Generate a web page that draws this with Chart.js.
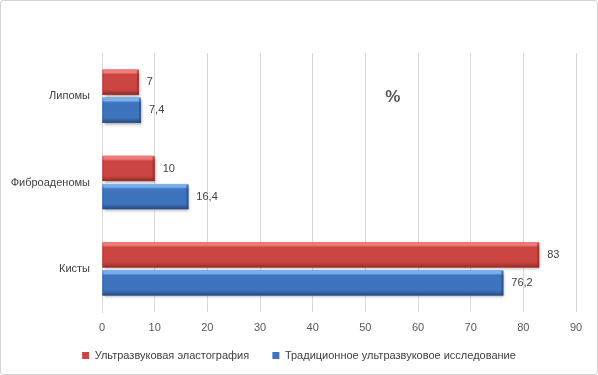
<!DOCTYPE html>
<html>
<head>
<meta charset="utf-8">
<script src="https://cdn.jsdelivr.net/npm/chart.js@4/dist/chart.umd.min.js"></script>
<style>
  html, body { margin: 0; padding: 0; background: #fff; }
  #wrap {
    width: 598px; height: 375px; box-sizing: border-box;
    border: 1px solid #d4d4d4; border-radius: 3px; position: relative;
  }
  #c { display: block; }
</style>
</head>
<body>
<div id="wrap"><canvas id="c" width="596" height="373"></canvas></div>
<script>
// data
const categories = ['Липомы', 'Фиброаденомы', 'Кисты'];
const seriesNames = ['Ультразвуковая эластография', 'Традиционное ультразвуковое исследование'];
const elastography = [7, 10, 83];
const traditional = [7.4, 16.4, 76.2];
const xTicks = [0, 10, 20, 30, 40, 50, 60, 70, 80, 90];
const unitLabel = '%';

const FONT = '"Liberation Sans", Arial, sans-serif';
const palette = [
  { main: '#CB4542', light: '#EE7B77', dark: '#8F2B29' },
  { main: '#3E73BE', light: '#7BB0EC', dark: '#27497C' }
];

function fmt(v) {
  return String(v).replace('.', ',');
}

// soft shadow under the bars
const barShadow = {
  id: 'barShadow',
  beforeDatasetDraw(chart) {
    const ctx = chart.ctx;
    ctx.save();
    ctx.shadowColor = 'rgba(0,0,0,0.35)';
    ctx.shadowBlur = 3;
    ctx.shadowOffsetX = 1;
    ctx.shadowOffsetY = 2;
  },
  afterDatasetDraw(chart) {
    chart.ctx.restore();
  }
};

// bevel look + value labels + "%" note
const barDecor = {
  id: 'barDecor',
  afterDatasetsDraw(chart) {
    const ctx = chart.ctx;
    chart.data.datasets.forEach((ds, di) => {
      const meta = chart.getDatasetMeta(di);
      const col = palette[di];
      meta.data.forEach((bar, i) => {
        const top = bar.y - bar.height / 2;
        const h = bar.height;
        const left = Math.min(bar.base, bar.x);
        const w = Math.abs(bar.x - bar.base);
        const g = ctx.createLinearGradient(0, top, 0, top + h);
        g.addColorStop(0, col.light);
        g.addColorStop(0.12, col.light);
        g.addColorStop(0.2, col.main);
        g.addColorStop(0.8, col.main);
        g.addColorStop(1, col.dark);
        ctx.save();
        ctx.fillStyle = g;
        ctx.fillRect(left, top, w, h);
        // side edges
        ctx.fillStyle = col.dark;
        ctx.globalAlpha = 0.6;
        ctx.fillRect(left + w - 2, top + 1, 2, h - 1);
        ctx.globalAlpha = 0.3;
        ctx.fillRect(left, top + 1, 1, h - 1);
        ctx.restore();

        ctx.save();
        ctx.fillStyle = '#404040';
        ctx.font = '11px ' + FONT;
        ctx.textAlign = 'left';
        ctx.textBaseline = 'middle';
        ctx.fillText(fmt(ds.data[i]), bar.x + 8, bar.y);
        ctx.restore();
      });
    });
  },
  afterDraw(chart) {
    const ctx = chart.ctx;
    const xs = chart.scales.x, ys = chart.scales.y;
    ctx.save();
    ctx.fillStyle = '#595959';
    ctx.font = 'bold 17px ' + FONT;
    ctx.textAlign = 'center';
    ctx.textBaseline = 'middle';
    ctx.fillText(unitLabel, xs.getPixelForValue(55.2), ys.getPixelForValue(0) + 1);
    ctx.restore();
  }
};

new Chart(document.getElementById('c'), {
  type: 'bar',
  data: {
    labels: categories,
    datasets: [
      { label: seriesNames[0], data: elastography, backgroundColor: palette[0].main, borderWidth: 0 },
      { label: seriesNames[1], data: traditional, backgroundColor: palette[1].main, borderWidth: 0 }
    ]
  },
  options: {
    indexAxis: 'y',
    responsive: false,
    animation: false,
    categoryPercentage: 0.65,
    barPercentage: 0.9,
    layout: { padding: { top: 52, right: 0, left: 0, bottom: 3 } },
    scales: {
      x: {
        min: 0, max: 90,
        afterBuildTicks(scale) { scale.ticks = xTicks.map(v => ({ value: v })); },
        afterFit(scale) { scale.height = 24; },
        grid: { color: '#d9d9d9', lineWidth: 1, drawTicks: false },
        border: { display: false },
        ticks: { color: '#595959', font: { family: FONT, size: 11 }, padding: 9 }
      },
      y: {
        afterFit(scale) { scale.width = 101; },
        grid: { display: false },
        border: { display: true, color: '#d9d9d9' },
        ticks: { color: '#404040', font: { family: FONT, size: 11 }, padding: 4 }
      },
      // empty strip on the right, keeps the legend centred on the page
      yRight: {
        type: 'category',
        position: 'right',
        afterFit(scale) { scale.width = 21; },
        grid: { display: false },
        border: { display: false },
        ticks: { display: false }
      }
    },
    plugins: {
      legend: {
        position: 'bottom',
        labels: {
          boxWidth: 7, boxHeight: 7, padding: 14,
          color: '#404040', font: { family: FONT, size: 11 },
          generateLabels(chart) {
            const items = Chart.defaults.plugins.legend.labels.generateLabels(chart);
            items[0].text += '   ';
            return items;
          }
        }
      },
      tooltip: { enabled: false }
    }
  },
  plugins: [barShadow, barDecor]
});
</script>
</body>
</html>
